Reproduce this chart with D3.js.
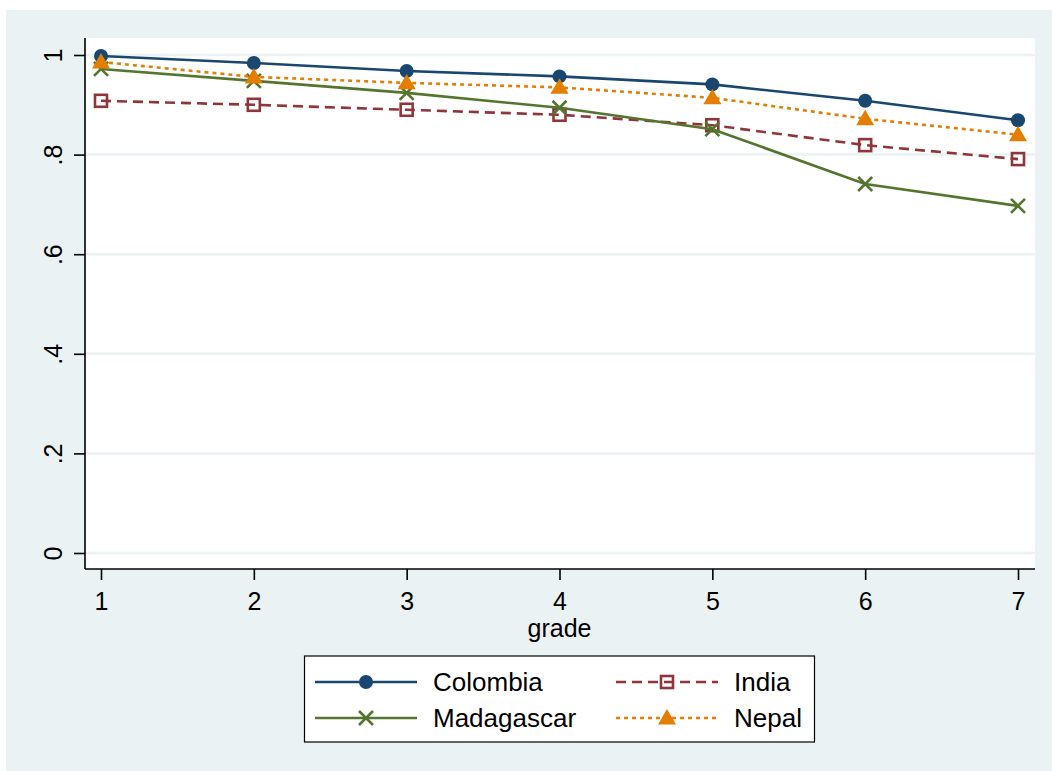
<!DOCTYPE html>
<html>
<head>
<meta charset="utf-8">
<script src="https://cdn.jsdelivr.net/npm/d3@7"></script>
<style>
  html, body { margin: 0; padding: 0; background: #ffffff; }
  svg { display: block; font-family: "Liberation Sans", Arial, sans-serif; }
</style>
</head>
<body>
<svg id="chart" width="1052" height="771"></svg>
<script>
// Share of pupils still enrolled, by grade and country
const grades = [1, 2, 3, 4, 5, 6, 7];
const colombia   = [0.998, 0.984, 0.968, 0.957, 0.941, 0.908, 0.869];
const india      = [0.908, 0.900, 0.890, 0.880, 0.859, 0.819, 0.791];
const madagascar = [0.972, 0.948, 0.924, 0.894, 0.851, 0.741, 0.697];
const nepal      = [0.986, 0.956, 0.944, 0.935, 0.914, 0.872, 0.840];
const yTicks = [0, 0.2, 0.4, 0.6, 0.8, 1];
const yTickLabels = ["0", ".2", ".4", ".6", ".8", "1"];
const xTitle = "grade";

const series = [
  { name: "Colombia",   values: colombia,   color: "#1a476f", dash: null,    marker: "circle" },
  { name: "India",      values: india,      color: "#90353b", dash: "10,6",  marker: "square" },
  { name: "Madagascar", values: madagascar, color: "#55752f", dash: null,    marker: "cross" },
  { name: "Nepal",      values: nepal,      color: "#e37e00", dash: "4,4",   marker: "triangle" }
];

const svg = d3.select("#chart");
const W = 1052, H = 771;

// graph region background
svg.append("rect").attr("x", 6).attr("y", 10).attr("width", W - 6).attr("height", H - 10)
  .attr("fill", "#eaf2f3");

// plot region
const plot = { left: 85, top: 38, right: 1035, bottom: 569 };
svg.append("rect").attr("x", plot.left).attr("y", plot.top)
  .attr("width", plot.right - plot.left).attr("height", plot.bottom - plot.top)
  .attr("fill", "#ffffff");

const x = d3.scaleLinear().domain([1, 7]).range([101, 1018]);
const y = d3.scaleLinear().domain([0, 1]).range([553, 55]);

// horizontal grid lines
svg.append("g").selectAll("line").data(yTicks).join("line")
  .attr("x1", plot.left).attr("x2", plot.right)
  .attr("y1", d => y(d)).attr("y2", d => y(d))
  .attr("stroke", "#eaf2f3").attr("stroke-width", 2.5);

// y axis
const yAxis = d3.axisLeft(y).tickValues(yTicks).tickSize(11).tickPadding(0)
  .tickFormat((d, i) => yTickLabels[i]);
const gy = svg.append("g").attr("transform", `translate(${plot.left},0)`).call(yAxis);
gy.select(".domain").attr("d", `M0,${plot.top}V${plot.bottom}`).attr("stroke", "#000").attr("stroke-width", 1.6);
gy.selectAll(".tick line").attr("stroke", "#000").attr("stroke-width", 1.6);
gy.selectAll(".tick text")
  .attr("x", null).attr("dy", null)
  .attr("transform", "translate(-23,0) rotate(-90)")
  .attr("text-anchor", "middle")
  .attr("font-size", 25).attr("fill", "#000")
  .attr("font-family", "Liberation Sans, Arial, sans-serif");

// x axis
const xAxis = d3.axisBottom(x).tickValues(grades).tickSize(11).tickPadding(0).tickFormat(d3.format("d"));
const gx = svg.append("g").attr("transform", `translate(0,${plot.bottom})`).call(xAxis);
gx.select(".domain").attr("d", `M${plot.left},0H${plot.right}`).attr("stroke", "#000").attr("stroke-width", 1.6);
gx.selectAll(".tick line").attr("stroke", "#000").attr("stroke-width", 1.6);
gx.selectAll(".tick text")
  .attr("y", 41).attr("dy", null)
  .attr("font-size", 25).attr("fill", "#000")
  .attr("font-family", "Liberation Sans, Arial, sans-serif");

svg.append("text").attr("x", x(4)).attr("y", 637).attr("text-anchor", "middle")
  .attr("font-size", 25).attr("fill", "#000").text(xTitle);

// marker drawing
function drawMarker(g, type, cx, cy, color) {
  if (type === "circle") {
    g.append("circle").attr("cx", cx).attr("cy", cy).attr("r", 7).attr("fill", color);
  } else if (type === "square") {
    g.append("rect").attr("x", cx - 6).attr("y", cy - 6).attr("width", 12).attr("height", 12)
      .attr("fill", "none").attr("stroke", color).attr("stroke-width", 2.6);
  } else if (type === "cross") {
    const s = 7;
    g.append("path").attr("d", `M${cx - s},${cy - s}L${cx + s},${cy + s}M${cx - s},${cy + s}L${cx + s},${cy - s}`)
      .attr("stroke", color).attr("stroke-width", 2.6).attr("fill", "none");
  } else if (type === "triangle") {
    const s = 9;
    g.append("path").attr("d", `M${cx},${cy - s}L${cx + s},${cy + s * 0.72}L${cx - s},${cy + s * 0.72}Z`)
      .attr("fill", color);
  }
}

const line = d3.line().x((d, i) => x(grades[i])).y(d => y(d));

// draw in Stata order: Colombia, India, Madagascar, Nepal
series.forEach(s => {
  const g = svg.append("g");
  g.append("path").datum(s.values).attr("d", line)
    .attr("fill", "none").attr("stroke", s.color).attr("stroke-width", 2.6)
    .attr("stroke-dasharray", s.dash);
  s.values.forEach((v, i) => drawMarker(g, s.marker, x(grades[i]), y(v), s.color));
});

// legend
const lg = svg.append("g");
lg.append("rect").attr("x", 304.5).attr("y", 656).attr("width", 510).attr("height", 86)
  .attr("fill", "#ffffff").attr("stroke", "#000").attr("stroke-width", 1.2);
const legendPos = [
  { s: series[0], x0: 315, ty: 682, col: 0 },
  { s: series[1], x0: 616, ty: 682, col: 1 },
  { s: series[2], x0: 315, ty: 718, col: 0 },
  { s: series[3], x0: 616, ty: 718, col: 1 }
];
legendPos.forEach(p => {
  const g = lg.append("g");
  g.append("line").attr("x1", p.x0).attr("x2", p.x0 + 102).attr("y1", p.ty).attr("y2", p.ty)
    .attr("stroke", p.s.color).attr("stroke-width", 2.6).attr("stroke-dasharray", p.s.dash);
  drawMarker(g, p.s.marker, p.x0 + 51, p.ty, p.s.color);
  g.append("text").attr("x", p.x0 + 118).attr("y", p.ty + 9)
    .attr("font-size", 26).attr("fill", "#000").text(p.s.name);
});
</script>
</body>
</html>
